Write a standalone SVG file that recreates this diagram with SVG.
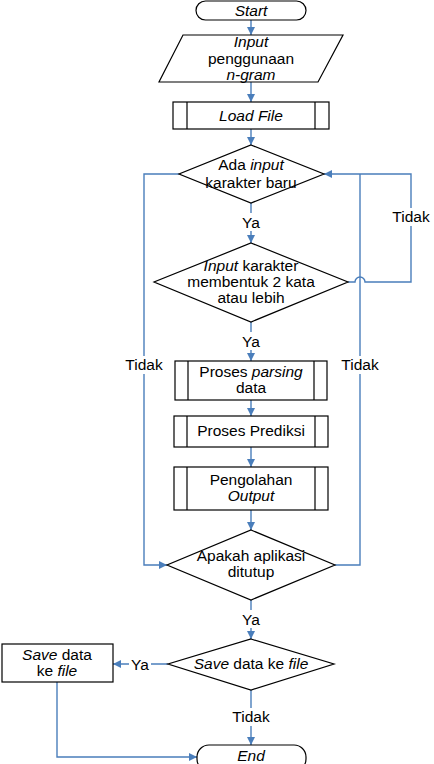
<svg xmlns="http://www.w3.org/2000/svg" width="434" height="764" viewBox="0 0 434 764">
<style>
.s{fill:#fff;stroke:#000;stroke-width:1.2}
.l{fill:none;stroke:#000;stroke-width:1.2}
.c{fill:none;stroke:#4a7ebb;stroke-width:1.4}
text{font-family:"Liberation Sans",Arial,sans-serif;font-size:15.5px;fill:#000;text-anchor:middle}
.i{font-style:italic}
.bg{fill:#fff}
</style>
<defs>
<marker id="a" viewBox="0 0 10 10" refX="10" refY="5" markerUnits="userSpaceOnUse" markerWidth="9" markerHeight="8" orient="auto">
<path d="M0,0 L10,5 L0,10 z" fill="#4a7ebb"/>
</marker>
</defs>
<g id="connectors">
<path class="c" d="M251,20 V35" marker-end="url(#a)"/>
<path class="c" d="M251,82 V102" marker-end="url(#a)"/>
<path class="c" d="M251,129 V145" marker-end="url(#a)"/>
<path class="c" d="M251,203 V243" marker-end="url(#a)"/>
<path class="c" d="M251,322 V361" marker-end="url(#a)"/>
<path class="c" d="M251,400 V416" marker-end="url(#a)"/>
<path class="c" d="M251,447 V467" marker-end="url(#a)"/>
<path class="c" d="M251,510 V530" marker-end="url(#a)"/>
<path class="c" d="M179,174 H144 V565 H167" marker-end="url(#a)"/>
<path class="c" d="M335,565 H360 V174"/>
<path class="c" d="M348,282 H355 A5,5 0 0 1 365,282 H411 V174 H324" marker-end="url(#a)"/>
<path class="c" d="M251,600 V639" marker-end="url(#a)"/>
<path class="c" d="M168,664 H113" marker-end="url(#a)"/>
<path class="c" d="M57,682 V757 H197" marker-end="url(#a)"/>
<path class="c" d="M251,690 V745" marker-end="url(#a)"/>
<rect class="bg" x="240" y="213" width="22" height="18"/><text x="251" y="228">Ya</text>
<rect class="bg" x="240" y="332" width="22" height="18"/><text x="251" y="347">Ya</text>
<rect class="bg" x="240" y="610" width="22" height="18"/><text x="251" y="625">Ya</text>
<rect class="bg" x="129" y="655" width="22" height="18"/><text x="140" y="670">Ya</text>
<rect class="bg" x="122" y="356" width="44" height="18"/><text x="144" y="370">Tidak</text>
<rect class="bg" x="338" y="356" width="44" height="18"/><text x="360" y="370">Tidak</text>
<rect class="bg" x="389" y="208" width="44" height="18"/><text x="411" y="222">Tidak</text>
<rect class="bg" x="229" y="708" width="44" height="18"/><text x="251" y="722">Tidak</text>
</g>
<g id="start"><rect class="s" x="196" y="1" width="110" height="19" rx="9.5"/><text class="i" x="251" y="15.5">Start</text></g>
<g id="input"><polygon class="s" points="183,35 343,35 318,82 159,82"/><text class="i" x="251" y="47">Input</text><text x="251" y="64">penggunaan</text><text class="i" x="251" y="80">n-gram</text></g>
<g id="loadfile"><rect class="s" x="173" y="102" width="156" height="27"/><path class="l" d="M187,102 V129 M315,102 V129"/><text class="i" x="251" y="121">Load File</text></g>
<g id="d1"><polygon class="s" points="251,145 324,174 251,203 179,174"/><text x="251" y="170">Ada <tspan class="i">input</tspan></text><text x="251" y="188">karakter baru</text></g>
<g id="d2"><polygon class="s" points="251,243 348,282 251,322 154,282"/><text x="251" y="271"><tspan class="i">Input</tspan> karakter</text><text x="251" y="287">membentuk 2 kata</text><text x="251" y="303">atau lebih</text></g>
<g id="parsing"><rect class="s" x="175" y="361" width="152" height="39"/><path class="l" d="M188,361 V400 M314,361 V400"/><text x="251" y="377">Proses <tspan class="i">parsing</tspan></text><text x="251" y="393">data</text></g>
<g id="prediksi"><rect class="s" x="174" y="416" width="154" height="31"/><path class="l" d="M187,416 V447 M315,416 V447"/><text x="251" y="436">Proses Prediksi</text></g>
<g id="pengolahan"><rect class="s" x="174" y="467" width="154" height="43"/><path class="l" d="M187,467 V510 M315,467 V510"/><text x="251" y="485">Pengolahan</text><text class="i" x="251" y="501">Output</text></g>
<g id="d3"><polygon class="s" points="251,530 335,565 251,600 167,565"/><text x="251" y="561">Apakah aplikasi</text><text x="251" y="577">ditutup</text></g>
<g id="d4"><polygon class="s" points="251,639 334,664 251,690 168,664"/><text x="251" y="669"><tspan class="i">Save</tspan> data ke <tspan class="i">file</tspan></text></g>
<g id="save"><rect class="s" x="2" y="644" width="111" height="38"/><text x="57" y="660"><tspan class="i">Save</tspan> data</text><text x="57" y="676">ke <tspan class="i">file</tspan></text></g>
<g id="end"><rect class="s" x="197" y="745" width="109" height="26" rx="12"/><text class="i" x="251" y="761">End</text></g>
</svg>
